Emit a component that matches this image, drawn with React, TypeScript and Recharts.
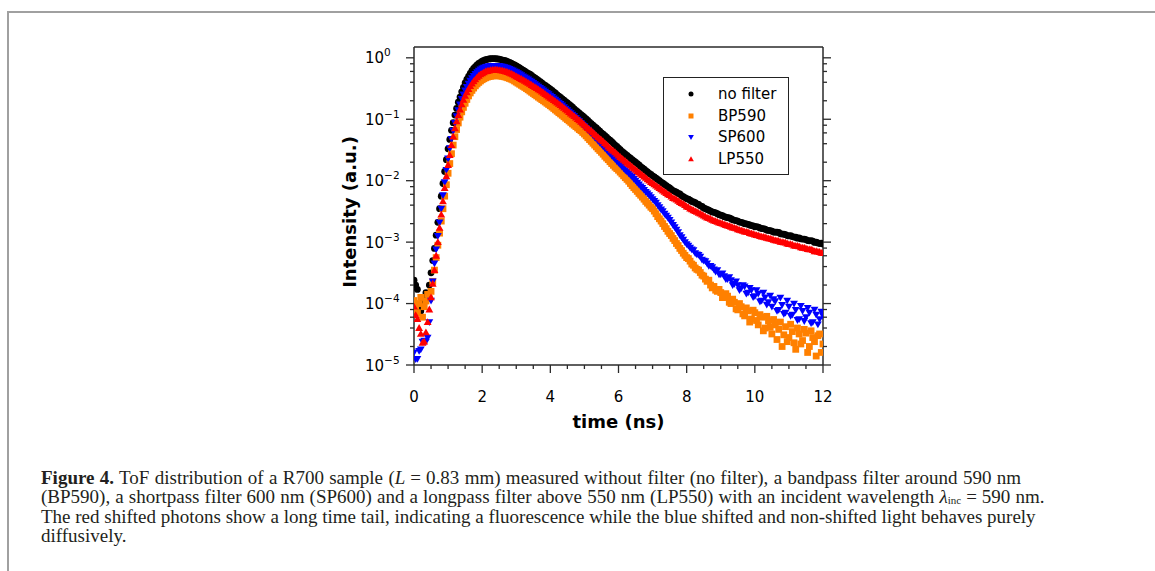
import React from 'react';
import { ScatterChart, Scatter, XAxis, YAxis, Legend } from 'recharts';

// time bins (ns), one row per nanosecond
const times = [
  0, 0.05, 0.1, 0.15, 0.2, 0.25, 0.3, 0.35, 0.4, 0.45, 0.5, 0.55, 0.6, 0.65, 0.7, 0.75, 0.8, 0.85, 0.9, 0.95,
  1, 1.05, 1.1, 1.15, 1.2, 1.25, 1.3, 1.35, 1.4, 1.45, 1.5, 1.55, 1.6, 1.65, 1.7, 1.75, 1.8, 1.85, 1.9, 1.95,
  2, 2.05, 2.1, 2.15, 2.2, 2.25, 2.3, 2.35, 2.4, 2.45, 2.5, 2.55, 2.6, 2.65, 2.7, 2.75, 2.8, 2.85, 2.9, 2.95,
  3, 3.05, 3.1, 3.15, 3.2, 3.25, 3.3, 3.35, 3.4, 3.45, 3.5, 3.55, 3.6, 3.65, 3.7, 3.75, 3.8, 3.85, 3.9, 3.95,
  4, 4.05, 4.1, 4.15, 4.2, 4.25, 4.3, 4.35, 4.4, 4.45, 4.5, 4.55, 4.6, 4.65, 4.7, 4.75, 4.8, 4.85, 4.9, 4.95,
  5, 5.05, 5.1, 5.15, 5.2, 5.25, 5.3, 5.35, 5.4, 5.45, 5.5, 5.55, 5.6, 5.65, 5.7, 5.75, 5.8, 5.85, 5.9, 5.95,
  6, 6.05, 6.1, 6.15, 6.2, 6.25, 6.3, 6.35, 6.4, 6.45, 6.5, 6.55, 6.6, 6.65, 6.7, 6.75, 6.8, 6.85, 6.9, 6.95,
  7, 7.05, 7.1, 7.15, 7.2, 7.25, 7.3, 7.35, 7.4, 7.45, 7.5, 7.55, 7.6, 7.65, 7.7, 7.75, 7.8, 7.85, 7.9, 7.95,
  8, 8.05, 8.1, 8.15, 8.2, 8.25, 8.3, 8.35, 8.4, 8.45, 8.5, 8.55, 8.6, 8.65, 8.7, 8.75, 8.8, 8.85, 8.9, 8.95,
  9, 9.05, 9.1, 9.15, 9.2, 9.25, 9.3, 9.35, 9.4, 9.45, 9.5, 9.55, 9.6, 9.65, 9.7, 9.75, 9.8, 9.85, 9.9, 9.95,
  10, 10.05, 10.1, 10.15, 10.2, 10.25, 10.3, 10.35, 10.4, 10.45, 10.5, 10.55, 10.6, 10.65, 10.7, 10.75, 10.8, 10.85, 10.9, 10.95,
  11, 11.05, 11.1, 11.15, 11.2, 11.25, 11.3, 11.35, 11.4, 11.45, 11.5, 11.55, 11.6, 11.65, 11.7, 11.75, 11.8, 11.85, 11.9, 11.95,
  12,
];

const noFilter = [
  2.4e-4, 2.0e-4, 1.7e-4, 9.0e-5, 7.6e-5, 1.2e-4, 1.05e-4, 1.5e-4, 1.41e-4, 2.0e-4, 3.16e-4, 5.0e-4, 7.9e-4, 1.3e-3, 2.1e-3, 3.5e-3, 5.6e-3, 9.0e-3, 0.0141, 0.022,
  0.033, 0.047, 0.066, 0.088, 0.117, 0.15, 0.19, 0.23, 0.28, 0.33, 0.39, 0.445, 0.5, 0.56, 0.62, 0.67, 0.72, 0.765, 0.81, 0.845,
  0.88, 0.905, 0.93, 0.945, 0.96, 0.965, 0.97, 0.97, 0.965, 0.958, 0.95, 0.935, 0.92, 0.905, 0.89, 0.868, 0.845, 0.818, 0.79, 0.765,
  0.74, 0.712, 0.685, 0.657, 0.63, 0.605, 0.58, 0.56, 0.54, 0.515, 0.49, 0.47, 0.45, 0.43, 0.41, 0.39, 0.37, 0.355, 0.34, 0.325,
  0.31, 0.295, 0.28, 0.265, 0.25, 0.238, 0.226, 0.215, 0.204, 0.194, 0.184, 0.175, 0.166, 0.157, 0.148, 0.14, 0.133, 0.126, 0.119, 0.113,
  0.107, 0.101, 0.0955, 0.09, 0.085, 0.08, 0.076, 0.072, 0.068, 0.064, 0.06, 0.057, 0.054, 0.051, 0.048, 0.0455, 0.043, 0.0405, 0.038, 0.036,
  0.034, 0.032, 0.03, 0.0285, 0.027, 0.0257, 0.0245, 0.0232, 0.022, 0.021, 0.02, 0.019, 0.018, 0.017, 0.0162, 0.0154, 0.0146, 0.0139, 0.0132, 0.0126,
  0.012, 0.0115, 0.011, 0.0105, 0.01, 0.0095, 0.0091, 0.0087, 0.0083, 0.0079, 0.0076, 0.0072, 0.0069, 0.0067, 0.0065, 0.0062, 0.0061, 0.0057, 0.0055, 0.0053,
  0.0051, 0.005, 0.0048, 0.0046, 0.0045, 0.0044, 0.0042, 0.0041, 0.0039, 0.0038, 0.0036, 0.0035, 0.0034, 0.0033, 0.0032, 0.0031, 0.00305, 0.003, 0.0029, 0.0028,
  0.00275, 0.0027, 0.0026, 0.00255, 0.0025, 0.00248, 0.0024, 0.00232, 0.00226, 0.00224, 0.0022, 0.00212, 0.0021, 0.00206, 0.002, 0.00198, 0.00195, 0.0019, 0.00186, 0.00184,
  0.00178, 0.00179, 0.00176, 0.0017, 0.00166, 0.00166, 0.00162, 0.00157, 0.00155, 0.00154, 0.00151, 0.00146, 0.00145, 0.00145, 0.00144, 0.00137, 0.00135, 0.00135, 0.00132, 0.00128,
  0.00126, 0.00127, 0.00123, 0.00121, 0.0012, 0.00116, 0.00117, 0.00113, 0.00112, 0.00112, 0.0011, 0.00106, 0.00105, 0.00106, 0.00104, 0.00099, 0.001, 0.00097, 0.00095, 0.00096,
  0.00093,
];

const bp590 = [
  1.12e-4, 9.0e-5, 7.1e-5, 1.0e-4, 1.26e-4, 6.0e-5, 8.9e-5, 1.1e-4, 1.41e-4, 1.2e-4, 1.58e-4, 2.3e-4, 3.5e-4, 5.6e-4, 8.9e-4, 1.4e-3, 2.2e-3, 3.5e-3, 5.6e-3, 8.6e-3,
  0.0132, 0.019, 0.0275, 0.038, 0.052, 0.068, 0.087, 0.108, 0.132, 0.156, 0.182, 0.21, 0.24, 0.268, 0.295, 0.322, 0.35, 0.375, 0.398, 0.42,
  0.44, 0.457, 0.473, 0.485, 0.495, 0.502, 0.507, 0.511, 0.513, 0.512, 0.509, 0.505, 0.5, 0.492, 0.484, 0.473, 0.462, 0.45, 0.437, 0.42,
  0.403, 0.387, 0.372, 0.357, 0.343, 0.33, 0.316, 0.302, 0.288, 0.275, 0.263, 0.251, 0.24, 0.229, 0.219, 0.209, 0.2, 0.191, 0.182, 0.174,
  0.166, 0.158, 0.15, 0.142, 0.135, 0.128, 0.122, 0.116, 0.11, 0.104, 0.099, 0.094, 0.089, 0.084, 0.08, 0.076, 0.072, 0.068, 0.065, 0.061,
  0.0575, 0.0537, 0.05, 0.0467, 0.0437, 0.0407, 0.038, 0.0355, 0.033, 0.031, 0.029, 0.027, 0.025, 0.0234, 0.022, 0.0204, 0.019, 0.0178, 0.0166, 0.0157,
  0.0148, 0.0138, 0.0129, 0.012, 0.0112, 0.0105, 0.0098, 0.009, 0.0083, 0.0077, 0.0072, 0.0067, 0.0062, 0.0058, 0.0054, 0.005, 0.0046, 0.0043, 0.004, 0.0037,
  0.0035, 0.0032, 0.0029, 0.0026, 0.0024, 0.0022, 0.002, 0.0018, 0.00166, 0.0015, 0.00138, 0.00128, 0.00115, 0.00106, 0.00095, 0.00088, 0.00079, 0.00073, 0.00066, 0.00061,
  0.00056, 0.00054, 0.00049, 0.00044, 0.00042, 0.00038, 0.00036, 0.00035, 0.00032, 0.00029, 0.00028, 0.00025, 0.00023, 0.00024, 0.0002, 0.00018, 0.00019, 0.000165, 0.000158, 0.00017,
  0.000151, 0.000125, 0.000126, 0.000145, 0.000132, 0.000105, 0.0001, 0.000118, 0.000105, 8.2e-5, 7.9e-5, 0.0001, 8.9e-5, 6.8e-5, 6.3e-5, 8.5e-5, 7.6e-5, 5.0e-5, 5.6e-5, 7.8e-5,
  7.1e-5, 5.3e-5, 4.5e-5, 6.6e-5, 6.0e-5, 3.6e-5, 4.0e-5, 6.2e-5, 5.2e-5, 4.1e-5, 3.2e-5, 5.5e-5, 4.5e-5, 2.6e-5, 3.8e-5, 5.0e-5, 2.0e-5, 3.1e-5, 4.2e-5, 2.4e-5,
  2.8e-5, 4.6e-5, 3.5e-5, 2.3e-5, 1.8e-5, 4.0e-5, 3.2e-5, 2.2e-5, 2.5e-5, 3.8e-5, 3.3e-5, 1.6e-5, 2.0e-5, 3.6e-5, 2.8e-5, 2.4e-5, 1.4e-5, 3.0e-5, 3.2e-5, 1.6e-5,
  2.2e-5,
];

const sp600 = [
  1.6e-5, 1.25e-5, 1.26e-5, 1.7e-5, 1.8e-5, 2.4e-5, 2.5e-5, 2.4e-5, 2.8e-5, 5.0e-5, 1.12e-4, 2.3e-4, 4.5e-4, 7.6e-4, 1.26e-3, 2.1e-3, 3.5e-3, 5.8e-3, 9.5e-3, 0.015,
  0.023, 0.034, 0.048, 0.065, 0.087, 0.112, 0.141, 0.175, 0.214, 0.253, 0.295, 0.337, 0.38, 0.424, 0.468, 0.51, 0.55, 0.585, 0.617, 0.647,
  0.676, 0.693, 0.708, 0.721, 0.733, 0.738, 0.741, 0.742, 0.741, 0.738, 0.733, 0.725, 0.716, 0.705, 0.692, 0.677, 0.661, 0.643, 0.624, 0.603,
  0.582, 0.562, 0.543, 0.521, 0.5, 0.48, 0.462, 0.444, 0.427, 0.408, 0.389, 0.372, 0.355, 0.339, 0.324, 0.309, 0.295, 0.282, 0.269, 0.256,
  0.243, 0.231, 0.219, 0.208, 0.197, 0.187, 0.178, 0.168, 0.158, 0.149, 0.141, 0.133, 0.126, 0.119, 0.112, 0.105, 0.099, 0.093, 0.087, 0.082,
  0.077, 0.072, 0.068, 0.063, 0.059, 0.055, 0.051, 0.048, 0.0447, 0.0418, 0.039, 0.0364, 0.034, 0.0317, 0.0295, 0.0275, 0.0257, 0.024, 0.0224, 0.0209,
  0.0195, 0.0182, 0.017, 0.0159, 0.0148, 0.014, 0.0132, 0.0123, 0.0115, 0.0107, 0.01, 0.0093, 0.0087, 0.0081, 0.0076, 0.0071, 0.0066, 0.0062, 0.0058, 0.0054,
  0.005, 0.0047, 0.0044, 0.004, 0.0037, 0.0034, 0.0032, 0.0029, 0.0027, 0.0025, 0.0023, 0.0021, 0.0019, 0.00175, 0.0016, 0.00145, 0.0013, 0.0012, 0.0011, 0.001,
  0.00093, 0.00088, 0.00081, 0.00076, 0.00074, 0.00066, 0.00063, 0.00062, 0.00058, 0.00052, 0.0005, 0.00049, 0.00045, 0.00041, 0.00041, 0.00039, 0.00036, 0.00033, 0.00035, 0.0003,
  0.0003, 0.00031, 0.00028, 0.00025, 0.00025, 0.00027, 0.00024, 0.0002, 0.00021, 0.00023, 0.0002, 0.000165, 0.000178, 0.0002, 0.00019, 0.000145, 0.000151, 0.00018, 0.000166, 0.000128,
  0.000132, 0.000165, 0.000145, 0.000108, 0.000112, 0.00015, 0.000126, 9.6e-5, 0.000105, 0.000135, 8.9e-5, 0.000118, 0.00011, 7.6e-5, 7.9e-5, 0.000125, 9.5e-5, 6.8e-5, 7.1e-5, 0.000112,
  8.9e-5, 6.3e-5, 6.6e-5, 0.0001, 7.9e-5, 5.4e-5, 5.6e-5, 9.2e-5, 7.6e-5, 5.2e-5, 6.0e-5, 8.5e-5, 7.1e-5, 4.8e-5, 5.0e-5, 8.0e-5, 6.6e-5, 4.6e-5, 5.6e-5, 7.4e-5,
  6.3e-5,
];

const lp550 = [
  8.9e-5, 6.5e-5, 5.6e-5, 4.0e-5, 3.2e-5, 2.3e-5, 2.4e-5, 3.4e-5, 5.0e-5, 8.0e-5, 1.26e-4, 2.1e-4, 3.5e-4, 6.0e-4, 1.0e-3, 1.7e-3, 2.8e-3, 4.6e-3, 7.6e-3, 0.0118,
  0.018, 0.026, 0.038, 0.052, 0.071, 0.092, 0.117, 0.144, 0.174, 0.206, 0.24, 0.275, 0.31, 0.345, 0.38, 0.415, 0.447, 0.48, 0.51, 0.537,
  0.56, 0.58, 0.6, 0.61, 0.62, 0.628, 0.635, 0.638, 0.64, 0.636, 0.63, 0.624, 0.617, 0.607, 0.596, 0.583, 0.569, 0.553, 0.537, 0.518,
  0.5, 0.484, 0.468, 0.452, 0.437, 0.422, 0.407, 0.391, 0.376, 0.361, 0.347, 0.333, 0.32, 0.307, 0.295, 0.282, 0.27, 0.257, 0.245, 0.234,
  0.224, 0.214, 0.204, 0.195, 0.186, 0.178, 0.17, 0.161, 0.153, 0.145, 0.138, 0.131, 0.124, 0.118, 0.112, 0.106, 0.101, 0.096, 0.091, 0.086,
  0.081, 0.076, 0.072, 0.068, 0.065, 0.061, 0.0575, 0.054, 0.051, 0.0485, 0.046, 0.0435, 0.041, 0.0385, 0.036, 0.034, 0.032, 0.0305, 0.029, 0.0273,
  0.0257, 0.0243, 0.023, 0.0218, 0.0207, 0.0196, 0.0186, 0.0177, 0.0168, 0.0159, 0.0151, 0.0143, 0.0136, 0.0129, 0.0123, 0.0117, 0.0111, 0.0105, 0.01, 0.0095,
  0.0091, 0.0087, 0.0083, 0.0079, 0.0076, 0.0072, 0.0069, 0.0066, 0.0063, 0.006, 0.0058, 0.0055, 0.0052, 0.0051, 0.0049, 0.0047, 0.0045, 0.0043, 0.0042, 0.004,
  0.0038, 0.0037, 0.0035, 0.0034, 0.0033, 0.0032, 0.0031, 0.003, 0.0029, 0.0028, 0.0027, 0.0026, 0.0025, 0.00245, 0.0024, 0.0023, 0.00224, 0.0022, 0.00214, 0.00208,
  0.00204, 0.002, 0.00195, 0.0019, 0.00186, 0.00183, 0.00178, 0.00173, 0.0017, 0.00167, 0.00162, 0.00158, 0.00155, 0.00152, 0.00148, 0.00147, 0.00145, 0.0014, 0.00138, 0.00136,
  0.00132, 0.0013, 0.00129, 0.00125, 0.00123, 0.00122, 0.0012, 0.00117, 0.00115, 0.00114, 0.00112, 0.00109, 0.00107, 0.00106, 0.00105, 0.00101, 0.001, 0.00099, 0.00098, 0.00095,
  0.00093, 0.00093, 0.00091, 0.00088, 0.00087, 0.00087, 0.00085, 0.00082, 0.00081, 0.00081, 0.00079, 0.00077, 0.00076, 0.00076, 0.00074, 0.00071, 0.00071, 0.0007, 0.00069, 0.00067,
  0.00066,
];

const xTicks = [0, 0.5, 1, 1.5, 2, 2.5, 3, 3.5, 4, 4.5, 5, 5.5, 6, 6.5, 7, 7.5, 8, 8.5, 9, 9.5, 10, 10.5, 11, 11.5, 12];
const yTicks = [
  1e-5, 2e-5, 4e-5, 6e-5, 8e-5,
  1e-4, 2e-4, 4e-4, 6e-4, 8e-4,
  1e-3, 2e-3, 4e-3, 6e-3, 8e-3,
  1e-2, 2e-2, 4e-2, 6e-2, 8e-2,
  0.1, 0.2, 0.4, 0.6, 0.8,
  1,
];

const SERIES = [
  { name: 'no filter', values: noFilter, color: '#000000', kind: 'circle' },
  { name: 'BP590', values: bp590, color: '#FF8000', kind: 'square' },
  { name: 'SP600', values: sp600, color: '#0000FF', kind: 'down' },
  { name: 'LP550', values: lp550, color: '#FF0000', kind: 'up' },
];

const AXIS = '#2a2a2a';
const SANS = 'DejaVu Sans, Verdana, sans-serif';
const SERIF = '"Liberation Serif", "Times New Roman", serif';

const toPoints = (vals: number[]) => times.map((t, i) => ({ t, v: vals[i] }));

const Marker = ({ kind, cx, cy, s, color }: any) => {
  if (kind === 'circle') return <circle cx={cx} cy={cy} r={s} fill={color} />;
  if (kind === 'square') return <rect x={cx - s} y={cy - s} width={2 * s} height={2 * s} fill={color} />;
  if (kind === 'down')
    return <polygon points={`${cx - s * 1.15},${cy - s * 0.85} ${cx + s * 1.15},${cy - s * 0.85} ${cx},${cy + s * 1.15}`} fill={color} />;
  return <polygon points={`${cx - s * 1.15},${cy + s * 0.85} ${cx + s * 1.15},${cy + s * 0.85} ${cx},${cy - s * 1.15}`} fill={color} />;
};

const isDecade = (v: number) => Math.abs(Math.log10(v) - Math.round(Math.log10(v))) < 1e-6;

const BottomTick = ({ x, y, payload }: any) => {
  const major = Number.isInteger(payload.value / 2);
  return (
    <g>
      <line x1={x} y1={y} x2={x} y2={y + (major ? 8 : 4)} stroke={AXIS} strokeWidth={1.3} />
      {major && (
        <text x={x} y={y + 37} textAnchor="middle" fontFamily={SANS} fontSize={15} fill="#000">
          {payload.value}
        </text>
      )}
    </g>
  );
};

const TopTick = ({ x, y, payload }: any) => {
  const major = Number.isInteger(payload.value / 2);
  return <line x1={x} y1={y} x2={x} y2={y - (major ? 8 : 4)} stroke={AXIS} strokeWidth={1.3} />;
};

const LeftTick = ({ x, y, payload }: any) => {
  const major = isDecade(payload.value);
  const e = Math.round(Math.log10(payload.value));
  return (
    <g>
      <line x1={x} y1={y} x2={x - (major ? 8 : 4)} y2={y} stroke={AXIS} strokeWidth={1.3} />
      {major && (
        <text x={x - 49} y={y + 5.5} fontFamily={SANS} fontSize={15} fill="#000">
          10
          <tspan dy={-7} fontSize={10.5}>
            {e < 0 ? '\u2212' + -e : String(e)}
          </tspan>
        </text>
      )}
    </g>
  );
};

const RightTick = ({ x, y, payload }: any) => {
  const major = isDecade(payload.value);
  return <line x1={x} y1={y} x2={x + (major ? 8 : 4)} y2={y} stroke={AXIS} strokeWidth={1.3} />;
};

const xTitle = (props: any) => {
  const vb = props.viewBox;
  return (
    <text x={vb.x + vb.width / 2} y={vb.y + 63} textAnchor="middle" fontFamily={SANS} fontWeight="bold" fontSize={18} fill="#000">
      time (ns)
    </text>
  );
};

const yTitle = (props: any) => {
  const vb = props.viewBox;
  const cx = vb.x + 26;
  const cy = vb.y + vb.height / 2 + 6;
  return (
    <text x={cx} y={cy} transform={`rotate(-90, ${cx}, ${cy})`} textAnchor="middle" fontFamily={SANS} fontWeight="bold" fontSize={18} fill="#000">
      Intensity (a.u.)
    </text>
  );
};

const LegendBox = () => (
  <div
    style={{
      width: 126,
      height: 98,
      boxSizing: 'border-box',
      border: '1px solid #222',
      background: '#fff',
      paddingTop: 5,
      fontFamily: SANS,
      fontSize: 15,
      color: '#000',
    }}
  >
    {SERIES.map((s) => (
      <div key={s.name} style={{ display: 'flex', alignItems: 'center', height: 21.7 }}>
        <svg width={10} height={10} style={{ marginLeft: 22, marginRight: 22 }}>
          <Marker kind={s.kind} cx={5} cy={5} s={2.5} color={s.color} />
        </svg>
        <span>{s.name}</span>
      </div>
    ))}
  </div>
);

const mathEq: React.CSSProperties = { padding: '0 5px' };

const Caption = () => (
  <div
    style={{
      position: 'absolute',
      left: 41,
      top: 469,
      fontFamily: SERIF,
      fontSize: 19,
      lineHeight: '18.7px',
      color: '#231f20',
      whiteSpace: 'nowrap',
    }}
  >
    <div style={{ wordSpacing: 0.6 }}>
      <b>Figure 4.</b> ToF distribution of a R700 sample (<i>L</i>
      <span style={mathEq}>=</span>0.83 mm) measured without filter (no filter), a bandpass filter around 590 nm
    </div>
    <div style={{ wordSpacing: 0.35 }}>
      (BP590), a shortpass filter 600 nm (SP600) and a longpass filter above 550 nm (LP550) with an incident wavelength <i>λ</i>
      <span style={{ fontSize: 11, lineHeight: 0, position: 'relative', top: 1.3 }}>inc</span>
      <span style={mathEq}>=</span>590 nm.
    </div>
    <div style={{ marginTop: 2 }}>
      The red shifted photons show a long time tail, indicating a fluorescence while the blue shifted and non-shifted light behaves purely
    </div>
    <div>diffusively.</div>
  </div>
);

export default function App() {
  return (
    <div style={{ position: 'absolute', left: 0, top: 0, width: 1155, height: 571, background: '#fff', overflow: 'hidden' }}>
      <div
        style={{
          position: 'absolute',
          left: 7,
          top: 11,
          right: -10,
          bottom: -10,
          borderTop: '2px solid #a0a0a0',
          borderLeft: '2px solid #a0a0a0',
        }}
      />
      <div style={{ position: 'absolute', left: 300, top: 20 }}>
        <ScatterChart width={560} height={420} margin={{ top: 0, right: 10, bottom: 30, left: 30 }}>
          <XAxis
            xAxisId="b"
            dataKey="t"
            type="number"
            domain={[0, 12]}
            allowDataOverflow
            ticks={xTicks}
            interval={0}
            tick={BottomTick}
            tickLine={false}
            tickSize={0}
            tickMargin={0}
            axisLine={{ stroke: AXIS, strokeWidth: 1.5 }}
            height={45}
            label={xTitle}
          />
          <XAxis
            xAxisId="top"
            orientation="top"
            type="number"
            domain={[0, 12]}
            allowDataOverflow
            ticks={xTicks}
            interval={0}
            tick={TopTick}
            tickLine={false}
            tickSize={0}
            tickMargin={0}
            axisLine={{ stroke: AXIS, strokeWidth: 1.5 }}
            height={27}
          />
          <YAxis
            yAxisId="l"
            dataKey="v"
            type="number"
            scale="log"
            domain={[1e-5, 1.5]}
            allowDataOverflow
            ticks={yTicks}
            interval={0}
            tick={LeftTick}
            tickLine={false}
            tickSize={0}
            tickMargin={0}
            axisLine={{ stroke: AXIS, strokeWidth: 1.5 }}
            width={84}
            label={yTitle}
          />
          <YAxis
            yAxisId="r"
            orientation="right"
            type="number"
            scale="log"
            domain={[1e-5, 1.5]}
            allowDataOverflow
            ticks={yTicks}
            interval={0}
            tick={RightTick}
            tickLine={false}
            tickSize={0}
            tickMargin={0}
            axisLine={{ stroke: AXIS, strokeWidth: 1.5 }}
            width={27}
          />
          {SERIES.map((s) => (
            <Scatter
              key={s.name}
              name={s.name}
              xAxisId="b"
              yAxisId="l"
              data={toPoints(s.values)}
              fill={s.color}
              isAnimationActive={false}
              shape={(p: any) => <Marker kind={s.kind} cx={p.cx} cy={p.cy} s={3.4} color={s.color} />}
            />
          ))}
          <Legend
            layout="vertical"
            align="center"
            verticalAlign="middle"
            wrapperStyle={{ left: 363, top: 57, width: 126, height: 98 }}
            content={LegendBox}
          />
        </ScatterChart>
      </div>
      <Caption />
    </div>
  );
}
